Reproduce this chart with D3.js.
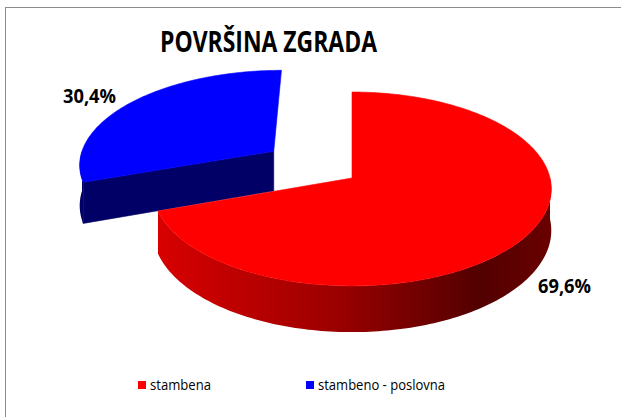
<!DOCTYPE html>
<html>
<head>
<meta charset="utf-8">
<script src="https://cdn.jsdelivr.net/npm/d3@7"></script>
<style>
  body { margin: 0; background: #fff; }
  svg { display: block; }
</style>
</head>
<body>
<svg id="drawing_region"></svg>
<script>
const title = "POVRŠINA ZGRADA";
const categories = ["stambena", "stambeno - poslovna"];
const values = [69.6, 30.4];
const labels = ["69,6%", "30,4%"];
const explode = [0, 0.5];
const topColors = ["#ff0000", "#0000ff"];
const wallColors = ["#8a0000", "#000066"];

const width = 621, height = 417;
const font = "'Open Sans', sans-serif";

const svg = d3.select("#drawing_region")
    .attr("width", width)
    .attr("height", height);

// chart frame (cut by the right and bottom edges)
svg.append("rect")
    .attr("x", 5.5).attr("y", 7.5)
    .attr("width", width + 10).attr("height", height + 10)
    .attr("fill", "none")
    .attr("stroke", "#8c8c8c")
    .attr("stroke-width", 1);

svg.append("text")
    .attr("x", 160).attr("y", 52)
    .attr("textLength", 217)
    .attr("lengthAdjust", "spacingAndGlyphs")
    .style("font-family", font)
    .style("font-weight", "bold")
    .style("font-size", "29px")
    .text(title);

// simple perspective pie: angle measured clockwise from 12 o'clock
const cx = 352, cy = 178, rx = 198, ry = 95.7, k = 0.113, depth = 41;

function proj(u, v, h) {
    const s = 1 / (1 + k * v);
    return [cx + rx * u * s, cy - ry * v * s + h * s];
}

const pie = d3.pie().sort(null).value(d => d)(values);
const line = d3.line();

const defs = svg.append("defs");
const grad = defs.append("linearGradient")
    .attr("id", "redSide")
    .attr("x1", "0").attr("x2", "1").attr("y1", "0").attr("y2", "0");
[[0, "#d80000"], [0.45, "#9c0000"], [0.82, "#520000"], [1, "#6a0000"]].forEach(s => {
    grad.append("stop").attr("offset", s[0]).attr("stop-color", s[1]);
});

function arcPoints(a0, a1, ou, ov, h) {
    const n = Math.max(2, Math.ceil((a1 - a0) / 0.02));
    return d3.range(n + 1).map(i => {
        const a = a0 + (a1 - a0) * i / n;
        return proj(ou + Math.sin(a), ov + Math.cos(a), h);
    });
}

const g = svg.append("g");

// draw back slice (blue) first
const order = [1, 0];
order.forEach(i => {
    const p = pie[i];
    const bis = (p.startAngle + p.endAngle) / 2;
    const ou = explode[i] * Math.sin(bis), ov = explode[i] * Math.cos(bis);
    const apexTop = proj(ou, ov, 0), apexBot = proj(ou, ov, depth);

    // radial walls facing the viewer
    [[p.startAngle, p.startAngle - Math.PI / 2], [p.endAngle, p.endAngle + Math.PI / 2]].forEach(([a, na]) => {
        if (Math.cos(na) < -0.01) {
            const rt = proj(ou + Math.sin(a), ov + Math.cos(a), 0);
            const rb = proj(ou + Math.sin(a), ov + Math.cos(a), depth);
            g.append("path")
                .attr("d", line([apexTop, rt, rb, apexBot]) + "Z")
                .attr("fill", wallColors[i])
                .attr("stroke", wallColors[i]).attr("stroke-width", 0.6);
        }
    });

    // outer side, front half only
    const s0 = Math.max(p.startAngle, Math.PI / 2), s1 = Math.min(p.endAngle, 3 * Math.PI / 2);
    if (s1 > s0) {
        const topPts = arcPoints(s0, s1, ou, ov, 0);
        const botPts = arcPoints(s0, s1, ou, ov, depth).reverse();
        g.append("path")
            .attr("d", line(topPts.concat(botPts)) + "Z")
            .attr("fill", i === 0 ? "url(#redSide)" : wallColors[i]);
    }

    // top face
    const rim = arcPoints(p.startAngle, p.endAngle, ou, ov, 0);
    g.append("path")
        .attr("d", line([apexTop].concat(rim)) + "Z")
        .attr("fill", topColors[i])
        .attr("stroke", topColors[i]).attr("stroke-width", 0.6);
});

// data labels
const labelPos = [[538, 293], [63, 103]];
labels.forEach((t, i) => {
    svg.append("text")
        .attr("x", labelPos[i][0]).attr("y", labelPos[i][1])
        .attr("textLength", 53)
        .attr("lengthAdjust", "spacingAndGlyphs")
        .style("font-family", font)
        .style("font-weight", "bold")
        .style("font-size", "19.5px")
        .text(t);
});

// legend
const legendX = [138, 306];
const legendW = [61, 127];
const legend = svg.append("g");
categories.forEach((c, i) => {
    legend.append("rect")
        .attr("x", legendX[i]).attr("y", 381)
        .attr("width", 8).attr("height", 8)
        .attr("fill", topColors[i]);
    legend.append("text")
        .attr("x", legendX[i] + 12).attr("y", 389.5)
        .attr("textLength", legendW[i])
        .attr("lengthAdjust", "spacingAndGlyphs")
        .style("font-family", font)
        .style("font-size", "14px")
        .text(c);
});
</script>
</body>
</html>
